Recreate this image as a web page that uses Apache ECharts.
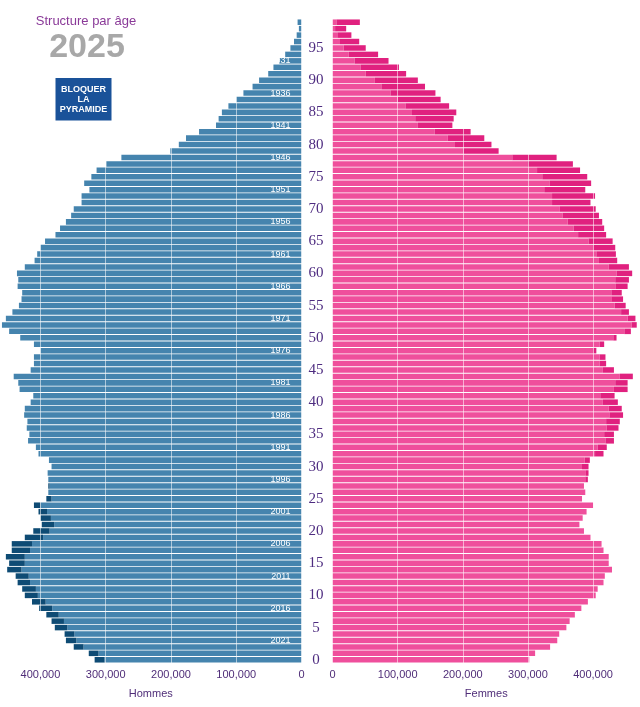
<!DOCTYPE html>
<html><head><meta charset="utf-8">
<script src="https://cdn.jsdelivr.net/npm/echarts@6/dist/echarts.min.js"></script>
<style>html,body{margin:0;padding:0;background:#fff}#c{width:640px;height:707px}</style>
</head><body><div id="c"></div>
<script>
// Ages 0..99 (99 = 99 ans ou plus)
const ages = Array.from({length: 100}, (_, i) => i);
// Population (milliers) by age, index = age
const hommes = [317,326,349,361,363,378,383,391,402,413,
  424,428,435,438,451,448,453,444,444,424,
  411,398,400,403,410,391,388,388,388,389,
  383,387,403,407,419,417,421,420,425,424,
  415,411,432,434,441,415,410,410,400,410,
  431,448,459,453,443,433,429,428,435,434,
  436,424,409,405,400,393,377,370,361,353,
  349,337,337,325,333,322,314,299,276,201,
  188,177,157,131,127,122,112,100,89,75,
  65,51,43,34,25,17,11.5,7.4,4,6];
const femmes = [302,311,334,345,348,359,364,372,382,392,
  404,407,416,418,429,424,424,416,413,396,
  386,379,384,390,400,383,388,386,392,393,
  393,395,416,421,432,432,439,441,446,444,
  438,433,453,453,461,432,420,419,405,417,
  436,458,467,465,455,450,446,444,453,455,
  460,455,437,435,434,430,420,417,414,409,
  404,396,403,388,397,391,380,369,344,255,
  244,233,212,184,186,190,179,166,158,142,
  131,113,102,86,70,51,41,29,21,42];
const ageTicks = [0,5,10,15,20,25,30,35,40,45,50,55,60,65,70,75,80,85,90,95];
const birthYearTicks = [2021,2016,2011,2006,2001,1996,1991,1986,1981,1976,1971,1966,1961,1956,1951,1946,1941,1936,1931];
const refYear = 2024;
const xTicks = [0,100000,200000,300000,400000];

const K = 1000;
const menBase = hommes.map((m, i) => Math.min(m, femmes[i]) * K);
const menExcess = hommes.map((m, i) => Math.max(0, m - femmes[i]) * K);
const womenBase = femmes.map((f, i) => Math.min(f, hommes[i]) * K);
const womenExcess = femmes.map((f, i) => Math.max(0, f - hommes[i]) * K);

const txt = '#4f2d78';
const chart = echarts.init(document.getElementById('c'), null, {renderer: 'canvas'});
const fmt = v => xTicks.includes(v) ? v.toLocaleString('en-US') : '';

chart.setOption({
  animation: false,
  grid: [
    {left: 0, width: 301.5, top: 19, height: 644},
    {left: 332.5, width: 307.5, top: 19, height: 644}
  ],
  xAxis: [
    {type: 'value', gridIndex: 0, inverse: true, min: 0, max: 462000, interval: 100000, z: 10,
     axisLine: {show: false}, axisTick: {show: false},
     axisLabel: {formatter: fmt, color: txt, fontSize: 11, fontFamily: 'Liberation Sans', margin: 6, showMaxLabel: false},
     splitLine: {show: true, lineStyle: {color: 'rgba(255,255,255,0.55)', width: 1}},
     name: 'Hommes', nameLocation: 'middle', nameGap: 25,
     nameTextStyle: {color: txt, fontSize: 11, fontFamily: 'Liberation Sans'}},
    {type: 'value', gridIndex: 1, min: 0, max: 472000, interval: 100000, z: 10,
     axisLine: {show: false}, axisTick: {show: false},
     axisLabel: {formatter: fmt, color: txt, fontSize: 11, fontFamily: 'Liberation Sans', margin: 6, showMaxLabel: false},
     splitLine: {show: true, lineStyle: {color: 'rgba(255,255,255,0.55)', width: 1}},
     name: 'Femmes', nameLocation: 'middle', nameGap: 25,
     nameTextStyle: {color: txt, fontSize: 11, fontFamily: 'Liberation Sans'}}
  ],
  yAxis: [
    {type: 'category', gridIndex: 0, data: ages, position: 'right', z: 10,
     axisLine: {show: false}, axisTick: {show: false}, splitLine: {show: false},
     axisLabel: {inside: true, interval: 0, margin: 11, color: '#ffffff', fontSize: 9, fontFamily: 'Liberation Sans',
       formatter: v => birthYearTicks.includes(refYear - Number(v)) ? String(refYear - Number(v)) : ''}},
    {type: 'category', gridIndex: 1, data: ages, position: 'left', z: 10,
     axisLine: {show: false}, axisTick: {show: false}, splitLine: {show: false},
     axisLabel: {interval: 0, margin: 16.5, align: 'center', color: '#4e2c80', fontSize: 15, fontFamily: 'Liberation Serif',
       formatter: v => ageTicks.includes(Number(v)) ? String(v) : ''}}
  ],
  series: [
    {type: 'bar', xAxisIndex: 0, yAxisIndex: 0, stack: 'h', data: menBase, barCategoryGap: '14%',
     itemStyle: {color: '#4584ae'}},
    {type: 'bar', xAxisIndex: 0, yAxisIndex: 0, stack: 'h', data: menExcess, barCategoryGap: '14%',
     itemStyle: {color: '#0e4b74'}},
    {type: 'bar', xAxisIndex: 1, yAxisIndex: 1, stack: 'f', data: womenBase, barCategoryGap: '14%',
     itemStyle: {color: '#ef4f9c'}},
    {type: 'bar', xAxisIndex: 1, yAxisIndex: 1, stack: 'f', data: womenExcess, barCategoryGap: '14%',
     itemStyle: {color: '#e0217f'}}
  ],
  graphic: [
    {type: 'text', z: 100, x: 86, y: 21, style: {text: 'Structure par âge', align: 'center', verticalAlign: 'middle',
      font: '13px "Liberation Sans", Arial, sans-serif', fill: '#8a3a98'}},
    {type: 'text', z: 100, x: 87, y: 48, style: {text: '2025', align: 'center', verticalAlign: 'middle',
      font: 'bold 34px "Liberation Sans", Arial, sans-serif', fill: '#a8a8a8'}},
    {type: 'rect', z: 100, x: 55.5, y: 78, shape: {width: 56, height: 42.5}, style: {fill: '#1a5299'}},
    {type: 'text', z: 101, x: 83.5, y: 99.5, style: {text: 'BLOQUER\nLA\nPYRAMIDE', align: 'center', verticalAlign: 'middle',
      font: 'bold 9px "Liberation Sans", Arial, sans-serif', lineHeight: 10, fill: '#ffffff'}}
  ]
});
</script>
</body></html>
